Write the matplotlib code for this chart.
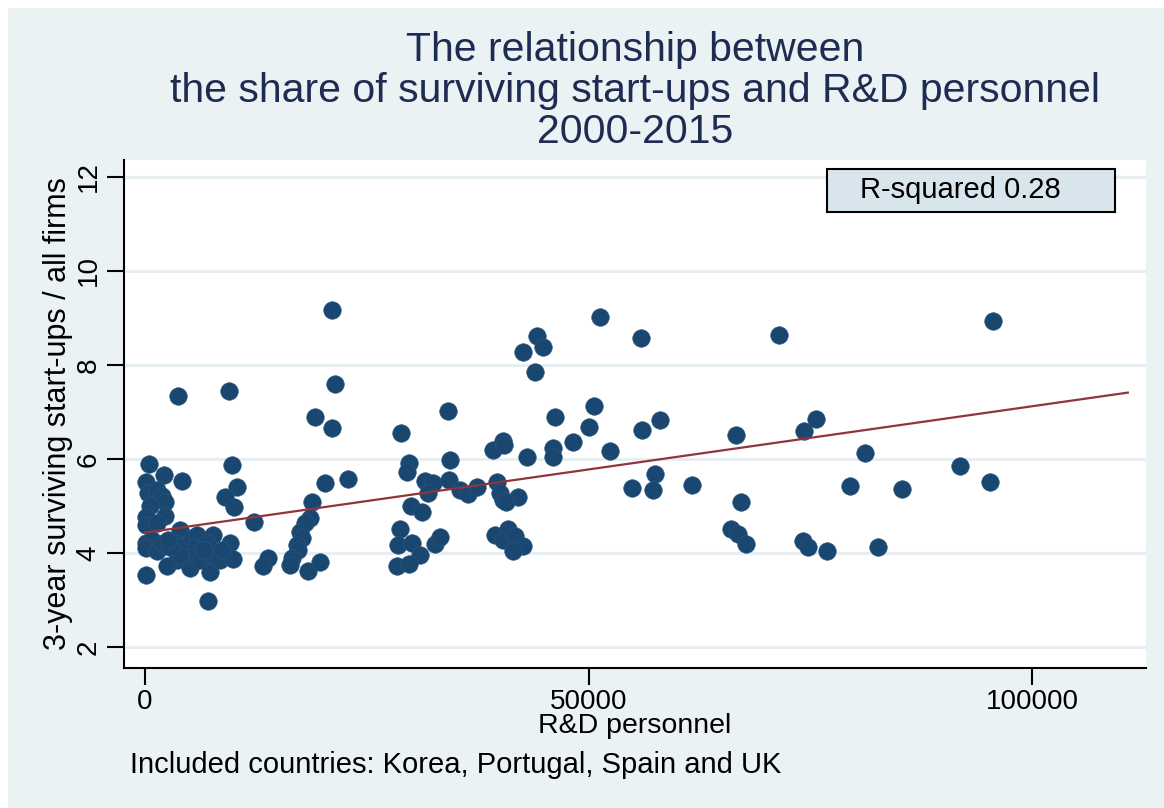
import matplotlib
matplotlib.use("Agg")
import matplotlib.pyplot as plt
from matplotlib.patches import Rectangle

# ---------------- data ----------------
rd_personnel = [
    # cluster near zero
    150, 450, 100, 2180, 4140, 370, 1320, 1880, 2250, 560, 100, 2250, 100, 1320,
    3950, 100, 750, 150, 1320, 2070, 3380, 4140, 3570, 2450, 5260, 5820, 7700,
    5640, 6950, 5260, 5070, 6200, 7330, 7520, 8460, 9580, 9880, 8650, 6570, 3950,
    2820, 7070, 3760, 9470, 9840, 10410, 9050, 10030, 12330, 2630, 13900, 13270,
    # cluster 16000-23000
    21420, 19170, 21120, 21120, 20290, 22900, 18790, 18600, 18040, 17470, 17660,
    17100, 17290, 16540, 16350, 18340, 19700,
    # cluster 28000-47000
    28860, 34130, 29800, 29500, 34390, 31570, 32430, 31870, 34270, 35510, 36450,
    37470, 39650, 40020, 40400, 42090, 39200, 40400, 40500, 43030, 42650, 44160,
    44910, 43970, 46220, 46030, 46030, 29950, 31190, 28750, 28490, 30070, 31010,
    28380, 29760, 32690, 33260, 39460, 40890, 40400, 41710, 42650, 41530, 40700,
    # right part
    51300, 55920, 71510, 50620, 50010, 48280, 52420, 56070, 58060, 66630, 74330,
    75650, 57500, 57310, 54870, 61640, 67160, 66060, 66890, 67760, 74150, 74780,
    76850, 79480, 81170, 82670, 85370, 91880, 95260, 95640,
]
survival_share = [
    3.52, 5.89, 5.50, 5.65, 5.53, 5.27, 5.34, 5.20, 5.09, 5.00, 4.77, 4.79, 4.60, 4.63,
    4.49, 4.21, 4.28, 4.10, 4.03, 4.21, 4.21, 4.13, 3.85, 3.71, 4.31, 4.38, 4.38,
    4.10, 4.21, 3.92, 3.67, 3.85, 3.60, 3.96, 3.85, 4.21, 3.87, 4.06, 4.06, 3.96,
    4.13, 2.98, 7.33, 7.45, 5.86, 5.40, 5.19, 4.97, 4.66, 4.28, 3.89, 3.72,
    7.59, 6.90, 6.65, 9.17, 5.48, 5.57, 5.09, 4.74, 4.63, 4.45, 4.31,
    4.17, 4.06, 3.89, 3.74, 3.62, 3.80,
    6.56, 7.01, 5.92, 5.73, 5.98, 5.52, 5.48, 5.28, 5.55, 5.34, 5.26,
    5.40, 5.50, 5.27, 5.13, 5.19, 6.18, 6.37, 6.30, 6.04, 8.28, 8.62,
    8.39, 7.84, 6.90, 6.23, 6.05, 4.99, 4.88, 4.50, 4.17, 4.21, 3.96,
    3.71, 3.77, 4.19, 4.33, 4.37, 4.50, 4.28, 4.35, 4.15, 4.03, 5.08,
    9.02, 8.58, 8.64, 7.13, 6.67, 6.35, 6.16, 6.62, 6.83, 6.51, 6.60,
    6.84, 5.67, 5.34, 5.38, 5.45, 5.09, 4.51, 4.40, 4.19, 4.26, 4.13,
    4.05, 5.43, 6.12, 4.13, 5.36, 5.85, 5.50, 8.94,
]
# fitted line end points
fit_x = [0, 110800]
fit_y = [4.43, 7.41]

x_ticks = [0, 50000, 100000]
y_ticks = [2, 4, 6, 8, 10, 12]

title_text = ("The relationship between\n"
              "the share of surviving start-ups and R&D personnel\n"
              "2000-2015")
x_label = "R&D personnel"
y_label = "3-year surviving start-ups / all firms"
note_text = "Included countries: Korea, Portugal, Spain and UK"
r2_text = "R-squared 0.28"

# ---------------- style ----------------
plt.rcParams['font.family'] = ['Liberation Sans', 'DejaVu Sans']
bg = '#EAF2F3'
navy = '#1A476F'
maroon = '#90353B'
title_col = '#1E2B52'

W, H = 1164, 808
fig = plt.figure(figsize=(W / 100, H / 100), dpi=100, facecolor='white')
fig.patches.append(Rectangle((8 / W, 0), 1 - 8 / W, 1 - 8 / H,
                             transform=fig.transFigure, facecolor=bg,
                             edgecolor='none', zorder=-10))

left, right, top, bottom = 124, 1146, 160, 668
ax = fig.add_axes([left / W, 1 - bottom / H, (right - left) / W, (bottom - top) / H])
ax.set_facecolor('white')

ax.set_xlim(-2370, 112850)
ax.set_ylim(1.55, 12.36)

for yv in y_ticks:
    ax.axhline(yv, color='#E6EEF1', lw=2.2, zorder=0)

ax.scatter(rd_personnel, survival_share, s=160, color=navy,
           edgecolors='#2A5680', linewidths=0.4, zorder=3)
ax.plot(fit_x, fit_y, color=maroon, lw=1.6, zorder=4)

ax.set_xticks(x_ticks)
ax.set_xticklabels([str(v) for v in x_ticks])
ax.set_yticks(y_ticks)
ax.set_yticklabels([str(v) for v in y_ticks], rotation=90, va='center')

for s in ['top', 'right']:
    ax.spines[s].set_visible(False)
for s in ['left', 'bottom']:
    ax.spines[s].set_linewidth(1.5)
    ax.spines[s].set_color('black')

ax.tick_params(axis='both', direction='out', length=12, width=1.5,
               labelsize=20, colors='black')
ax.tick_params(axis='x', pad=3)
ax.tick_params(axis='y', pad=4)

ax.set_xlabel(x_label, fontsize=20.5, labelpad=-1)
ax.set_ylabel(y_label, fontsize=22, labelpad=2)

fig.text(0.5 * (left + right) / W, 1 - 91 / H, title_text, ha='center',
         va='center', fontsize=29.5, color=title_col, linespacing=1.1)

fig.text(130 / W, 1 - 765 / H, note_text, ha='left', va='center', fontsize=21,
         color='black')

# R-squared box
bx0, bx1, by0, by1 = 827, 1115, 169, 212
ax.add_patch(Rectangle(((bx0 - left) / (right - left), (bottom - by1) / (bottom - top)),
                       (bx1 - bx0) / (right - left), (by1 - by0) / (bottom - top),
                       transform=ax.transAxes, facecolor='#D9E5EC',
                       edgecolor='black', linewidth=1.5, zorder=5, clip_on=False))
ax.text((960 - left) / (right - left), (bottom - 190) / (bottom - top), r2_text,
        transform=ax.transAxes, ha='center', va='center', fontsize=21,
        color='black', zorder=6)

fig.savefig('out.png', dpi=100, facecolor=fig.get_facecolor())
